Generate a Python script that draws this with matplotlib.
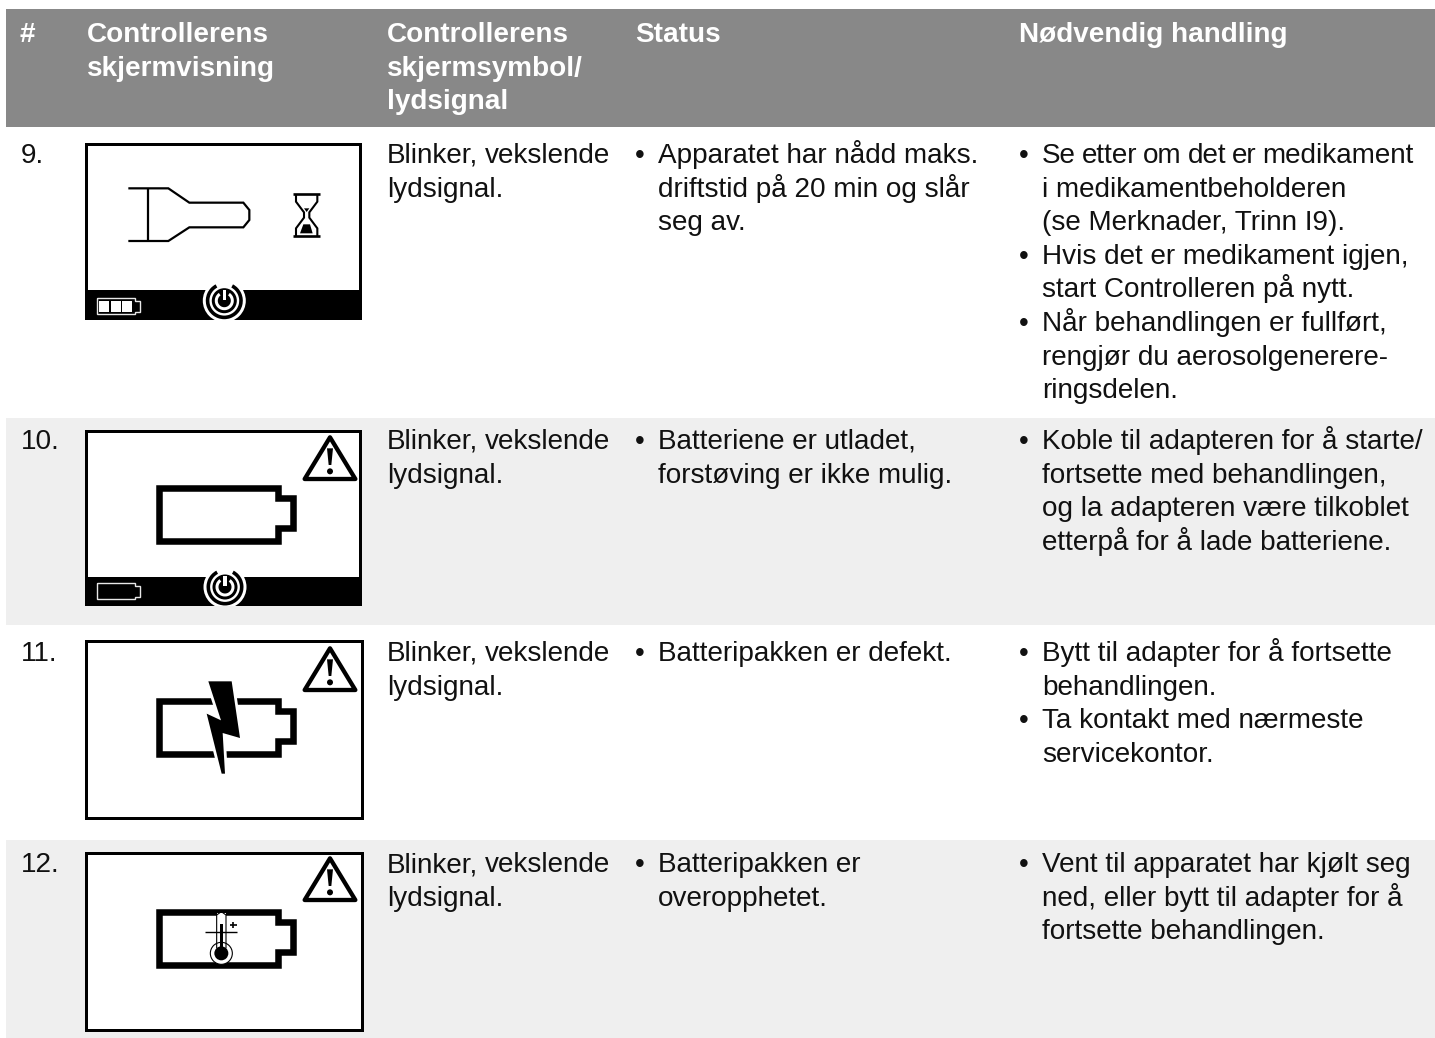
import matplotlib
matplotlib.use('Agg')
import matplotlib.pyplot as plt
from matplotlib.patches import Rectangle, Polygon, Circle, Wedge

plt.rcParams['font.family'] = ['Liberation Sans', 'DejaVu Sans']

# Table content
headers = ['#', 'Controllerens\nskjermvisning', 'Controllerens\nskjermsymbol/\nlydsignal', 'Status', 'Nødvendig handling']
row_numbers = ['9.', '10.', '11.', '12.']
signals = ['Blinker, vekslende\nlydsignal.'] * 4
status = [
    ['Apparatet har nådd maks.\ndriftstid på 20 min og slår\nseg av.'],
    ['Batteriene er utladet,\nforstøving er ikke mulig.'],
    ['Batteripakken er defekt.'],
    ['Batteripakken er\noveropphetet.'],
]
actions = [
    ['Se etter om det er medikament\ni medikamentbeholderen\n(se Merknader, Trinn I9).',
     'Hvis det er medikament igjen,\nstart Controlleren på nytt.',
     'Når behandlingen er fullført,\nrengjør du aerosolgenerere-\nringsdelen.'],
    ['Koble til adapteren for å starte/\nfortsette med behandlingen,\nog la adapteren være tilkoblet\netterpå for å lade batteriene.'],
    ['Bytt til adapter for å fortsette\nbehandlingen.', 'Ta kontakt med nærmeste\nservicekontor.'],
    ['Vent til apparatet har kjølt seg\nned, eller bytt til adapter for å\nfortsette behandlingen.'],
]
row_base = [163, 449, 661, 872]
shaded = [(418, 625), (840, 1038)]
col_x = [20, 87, 387, 635, 1019]
FS = 20.1
LINE = 33.6
TEXT = '#111111'
# these lines are set with narrower word spaces in the original
tight = {'Se etter om det er medikament': 5.8, 'Blinker, vekslende': 6.6}

fig = plt.figure(figsize=(14.35, 10.38), dpi=100)
ax = fig.add_axes([0, 0, 1, 1])
ax.set_xlim(0, 1435)
ax.set_ylim(1038, 0)
ax.axis('off')
rend = fig.canvas.get_renderer()


def put(x, y, s, color=TEXT, weight='normal'):
    # one text line per call so the spacing stays the same as the reference
    for i, line in enumerate(s.split('\n')):
        yy = y + i*LINE
        if line in tight:
            xx = x
            for w in line.split(' '):
                t = ax.text(xx, yy, w, fontsize=FS, va='baseline', ha='left', color=color, fontweight=weight)
                xx += t.get_window_extent(rend).width + tight[line]
        else:
            ax.text(x, yy, line, fontsize=FS, va='baseline', ha='left', color=color, fontweight=weight)


def bullets(x, y, items):
    n = 0
    for it in items:
        ax.text(x, y + n*LINE, '•', fontsize=FS, va='baseline', ha='left', color=TEXT)
        put(x + 23, y + n*LINE, it)
        n += it.count('\n') + 1


# backgrounds
ax.add_patch(Rectangle((6, 9), 1429, 118, fc='#888888', ec='none'))
for a, b in shaded:
    ax.add_patch(Rectangle((6, a), 1429, b - a, fc='#efefef', ec='none'))

# header
for x, h in zip(col_x, headers):
    put(x, 42, h, color='white', weight='bold')

# rows
for i in range(4):
    put(col_x[0] + 1, row_base[i], row_numbers[i])
    put(col_x[2], row_base[i], signals[i])
    bullets(col_x[3], row_base[i], status[i])
    bullets(col_x[4], row_base[i], actions[i])


# icons, drawn in the coordinates of a 3x crop of the screen
def Z(ox, oy, pts):
    return [(ox + px/3, oy + py/3) for px, py in pts]


def line(ox, oy, pts, lw=1.6, c='k'):
    p = Z(ox, oy, pts)
    ax.plot([q[0] for q in p], [q[1] for q in p], color=c, lw=lw, solid_capstyle='butt', solid_joinstyle='miter')


def frame(x0, y0, x1, y1, bar=None):
    ax.add_patch(Rectangle((x0, y0), x1 - x0, y1 - y0, fc='white', ec='none'))
    t = 3
    for r in [(x0, y0, x1 - x0, t), (x0, y1 - t, x1 - x0, t), (x0, y0, t, y1 - y0), (x1 - t, y0, t, y1 - y0)]:
        ax.add_patch(Rectangle(r[:2], r[2], r[3], fc='k', ec='none'))
    if bar:
        ax.add_patch(Rectangle((x0, bar), x1 - x0, y1 - bar, fc='k', ec='none'))


def power(cx, cy, y0, y1):
    clip = Rectangle((cx - 40, y0), 80, y1 - y0, transform=ax.transData)
    # y axis is flipped, so screen top is -90 degrees here
    c = Circle((cx, cy), 21.5, fc='white', ec='none')
    ax.add_patch(c)
    c.set_clip_path(clip)
    c = Wedge((cx, cy), 18.5, -62, 242, width=3.6, fc='k', ec='none')
    ax.add_patch(c)
    c.set_clip_path(clip)
    ax.add_patch(Circle((cx, cy), 12.5, fc='k', ec='none'))
    ax.add_patch(Wedge((cx, cy), 9.5, -55, 235, width=3.0, fc='white', ec='none'))
    ax.add_patch(Rectangle((cx - 1.6, cy - 11), 3.2, 10, fc='white', ec='none'))


def small_batt(ox, oy, cells):
    line(ox, oy, [(50, 490), (165, 490), (165, 497), (181, 497), (181, 530), (165, 530), (165, 537), (50, 537), (50, 490)], lw=1.0, c='#e8e8e8')
    for k in range(cells):
        a, b = Z(ox, oy, [(58 + k*34, 497)])[0], Z(ox, oy, [(88 + k*34, 530)])[0]
        ax.add_patch(Rectangle(a, b[0] - a[0], b[1] - a[1], fc='white', ec='none'))


def warning(ox, oy):
    tri = Z(ox, oy, [(750, 52), (826, 177), (674, 177)])
    ax.add_patch(Polygon(tri, closed=True, fc='none', ec='k', lw=3.1, joinstyle='round'))
    p = Z(ox, oy, [(741, 85), (759, 85), (754, 135), (746, 135)])
    ax.add_patch(Polygon(p, closed=True, fc='k', ec='none'))
    c = Z(ox, oy, [(750, 154)])[0]
    ax.add_patch(Circle(c, 3, fc='k', ec='none'))


def big_batt(ox, oy, dy=0):
    pts = [(237, 205), (595, 205), (595, 235), (640, 235), (640, 325), (595, 325), (595, 363), (237, 363)]
    pts = [(a, b + dy) for a, b in pts]
    ax.add_patch(Polygon(Z(ox, oy, pts), closed=True, fc='white', ec='k', lw=4.7, joinstyle='miter'))


# row 9: flashlight and hourglass
ox, oy = 80, 135
frame(85, 143, 362, 320, bar=290)
line(ox, oy, [(145, 160), (265, 160), (328, 203), (490, 203), (508, 225), (508, 255), (490, 277), (328, 277), (265, 318), (145, 318)])
line(ox, oy, [(203, 160), (203, 318)])
line(ox, oy, [(640, 178), (720, 178)], lw=1.9)
line(ox, oy, [(640, 303), (720, 303)], lw=1.9)
line(ox, oy, [(648, 178), (648, 200), (672, 232), (672, 248), (648, 280), (648, 303)], lw=1.5)
line(ox, oy, [(712, 178), (712, 200), (688, 232), (688, 248), (712, 280), (712, 303)], lw=1.5)
ax.add_patch(Polygon(Z(ox, oy, [(660, 295), (698, 295), (690, 268), (670, 268)]), closed=True, fc='k', ec='none'))
ax.add_patch(Polygon(Z(ox, oy, [(672, 220), (688, 220), (680, 231)]), closed=True, fc='k', ec='none'))
power(224.3, 300.7, 143, 320)
small_batt(ox, oy, 3)

# row 10: empty battery
ox, oy = 80, 420
frame(85, 430, 362, 606, bar=577)
warning(ox, oy)
big_batt(ox, oy)
power(225, 587, 430, 606)
small_batt(ox, oy, 0)

# row 11: defect battery
ox, oy = 80, 632
frame(85, 640, 364, 820)
warning(ox, oy - 1)
big_batt(ox, oy, 2)
bolt = [(385, 148), (455, 148), (480, 318), (428, 303), (435, 425), (425, 425), (380, 245), (423, 265)]
ax.add_patch(Polygon(Z(ox, oy, bolt), closed=True, fc='white', ec='white', lw=4))
ax.add_patch(Polygon(Z(ox, oy, bolt), closed=True, fc='k', ec='none'))

# row 12: hot battery
ox, oy = 80, 845
frame(85, 852, 364, 1032)
warning(ox, oy - 4)
big_batt(ox, oy, -4)
c = Z(ox, oy, [(424, 325)])[0]
a, b = Z(ox, oy, [(410, 205)])[0], Z(ox, oy, [(438, 320)])[0]
ax.add_patch(Rectangle(a, b[0] - a[0], b[1] - a[1], fc='white', ec='none'))
ax.add_patch(Circle(c, 11, fc='white', ec='k', lw=0.8))
ax.add_patch(Circle(c, 7, fc='k', ec='none'))
line(ox, oy, [(410, 310), (410, 210), (424, 200), (438, 210), (438, 310)], lw=0.8)
ax.add_patch(Rectangle(Z(ox, oy, [(419, 236)])[0], 3.4, 28, fc='k', ec='none'))
line(ox, oy, [(376, 262), (470, 262)], lw=1.0)
line(ox, oy, [(451, 239), (470, 239)], lw=1.2)
line(ox, oy, [(460, 230), (460, 248)], lw=1.2)

fig.savefig('out.png', dpi=100)
